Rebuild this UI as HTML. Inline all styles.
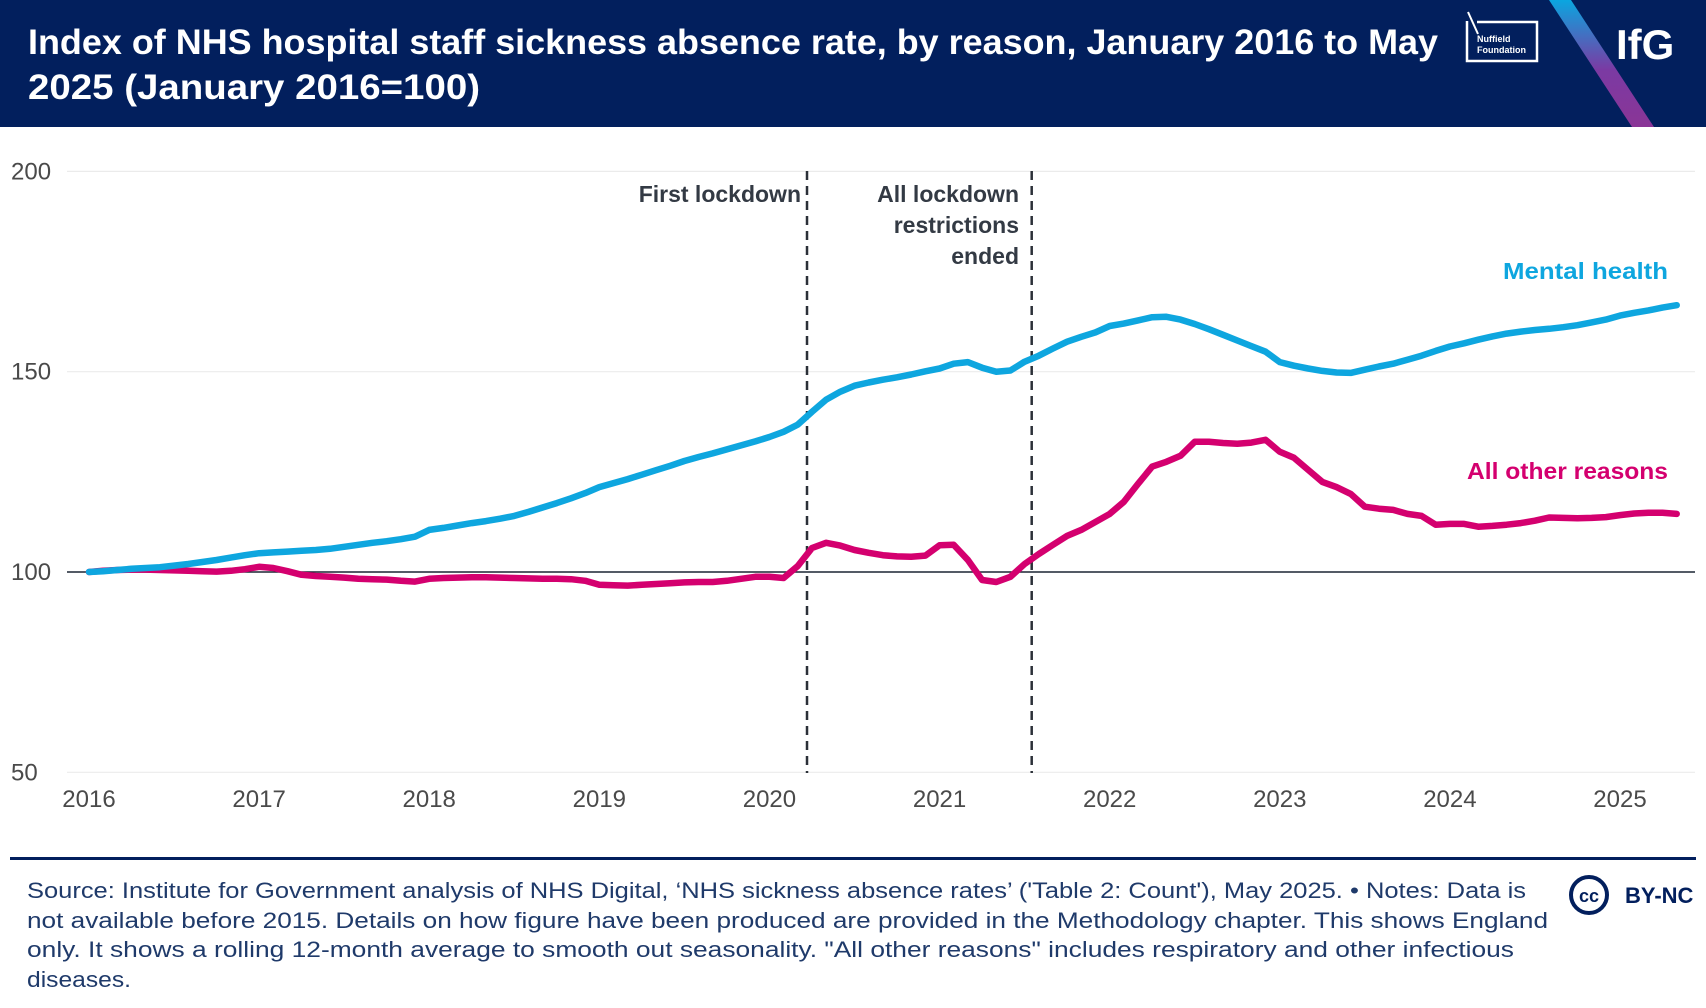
<!DOCTYPE html>
<html><head><meta charset="utf-8"><style>
html,body{margin:0;padding:0;background:#fff;}
svg{display:block;font-family:"Liberation Sans",sans-serif;}
</style></head><body>
<svg id="chart" width="1706" height="1008" viewBox="0 0 1706 1008">
<defs><linearGradient id="stripe" x1="0" y1="0" x2="0" y2="1"><stop offset="0" stop-color="#0aa6e0"/><stop offset="0.55" stop-color="#7b3aa3"/><stop offset="1" stop-color="#8a3596"/></linearGradient></defs>
<rect x="0" y="0" width="1706" height="127" fill="#021f5d"/>
<text fill="#fff" font-weight="bold" font-size="35">
<tspan x="28" y="54" textLength="1410" lengthAdjust="spacingAndGlyphs">Index of NHS hospital staff sickness absence rate, by reason, January 2016 to May</tspan>
<tspan x="28" y="99" textLength="452" lengthAdjust="spacingAndGlyphs">2025 (January 2016=100)</tspan></text>
<g>
<path d="M1467 21 L1467 61 L1537 61 L1537 22 L1477 22" fill="none" stroke="#fff" stroke-width="2.5"/>
<path d="M1468 12 L1478 34" stroke="#fff" stroke-width="2"/>
<text x="1477" y="42" fill="#fff" font-size="9" font-weight="bold">Nuffield</text>
<text x="1477" y="53" fill="#fff" font-size="9" font-weight="bold">Foundation</text></g>
<polygon points="1549,0 1571,0 1654,127 1632,127" fill="url(#stripe)"/>
<text x="1616" y="59" fill="#fff" font-weight="bold" font-size="42">IfG</text>
<g id="plot"></g>
<rect x="10" y="857" width="1686" height="3" fill="#021f5d"/>
<text fill="#1f3a6a" font-size="22">
<tspan x="27" y="898" textLength="1499" lengthAdjust="spacingAndGlyphs">Source: Institute for Government analysis of NHS Digital, ‘NHS sickness absence rates’ ('Table 2: Count'), May 2025. • Notes: Data is</tspan>
<tspan x="27" y="928" textLength="1521" lengthAdjust="spacingAndGlyphs">not available before 2015. Details on how figure have been produced are provided in the Methodology chapter. This shows England</tspan>
<tspan x="27" y="957" textLength="1487" lengthAdjust="spacingAndGlyphs">only. It shows a rolling 12-month average to smooth out seasonality. "All other reasons" includes respiratory and other infectious</tspan>
<tspan x="27" y="987" textLength="104" lengthAdjust="spacingAndGlyphs">diseases.</tspan></text>
<g>
<circle cx="1589" cy="895" r="18" fill="none" stroke="#021f5d" stroke-width="4"/>
<text x="1589" y="902" text-anchor="middle" font-size="18" font-weight="bold" fill="#021f5d">cc</text>
<text x="1625" y="903" font-size="22" font-weight="bold" fill="#021f5d">BY-NC</text></g>
</svg>
<script>
const years = ["2016","2017","2018","2019","2020","2021","2022","2023","2024","2025"];
const yTicks = [50,100,150,200];
const mentalHealth = [100,100.2,100.5,100.8,101,101.2,101.6,102,102.5,103,103.6,104.2,
104.7,104.9,105.1,105.3,105.5,105.8,106.3,106.8,107.3,107.7,108.2,108.8,
110.5,111,111.6,112.2,112.7,113.3,114,115,116.1,117.2,118.4,119.7,
121.2,122.2,123.2,124.3,125.4,126.5,127.7,128.7,129.6,130.6,131.6,132.6,
133.7,135,136.8,140,143,145,146.5,147.3,148,148.6,149.3,150.1,
150.8,152,152.4,151,150,150.3,152.5,154,155.8,157.5,158.7,159.8,
161.4,162,162.8,163.6,163.7,163,161.9,160.6,159.2,157.8,156.4,155,
152.4,151.5,150.8,150.2,149.8,149.7,150.5,151.3,152,153,154,155.2,
156.3,157.1,158,158.8,159.5,160,160.4,160.7,161.1,161.6,162.3,163,
164,164.7,165.3,166,166.6];
const otherReasons = [100,100.3,100.5,100.6,100.6,100.5,100.4,100.3,100.2,100.1,100.3,100.7,
101.3,101,100.2,99.3,99,98.8,98.6,98.3,98.2,98.1,97.8,97.6,
98.3,98.5,98.6,98.7,98.7,98.6,98.5,98.4,98.3,98.3,98.2,97.8,
96.8,96.7,96.6,96.8,97,97.2,97.4,97.5,97.5,97.8,98.3,98.8,
98.8,98.5,101.5,106,107.3,106.6,105.5,104.8,104.2,103.9,103.8,104.1,
106.7,106.8,103,98,97.5,98.8,102,104.5,106.8,109,110.5,112.5,
114.5,117.5,122,126.3,127.5,129,132.5,132.5,132.2,132,132.3,133,
130,128.5,125.5,122.5,121.2,119.5,116.3,115.8,115.5,114.5,114,111.8,
112,112,111.3,111.5,111.8,112.2,112.8,113.6,113.5,113.4,113.5,113.7,
114.2,114.6,114.8,114.8,114.5];
const lockdownOffsets = [50.65,66.5];

const NS="http://www.w3.org/2000/svg";
const plot=document.getElementById('plot');
const X=m=>89+m*(1531/108);
const Y=v=>572-(v-100)*4.006;
function mk(tag,attrs){const e=document.createElementNS(NS,tag);for(const k in attrs)e.setAttribute(k,attrs[k]);plot.appendChild(e);return e;}
yTicks.forEach(t=>{
  const g=mk('line',{x1:67,x2:1695,y1:Y(t),y2:Y(t),stroke:t===100?'#1c2533':'#ebebeb','stroke-width':t===100?1.6:1.2});
  
  
  const l=mk('text',{x:11,y:Y(t)+8,'font-size':24,fill:'#4a4a4a'});l.textContent=t;
  
  
});
years.forEach((yr,i)=>{
  const l=mk('text',{x:X(i*12),y:807,'font-size':24,fill:'#4a4a4a','text-anchor':'middle'});l.textContent=yr;
  
  
});
lockdownOffsets.forEach((m,i)=>{
  const d=mk('line',{x1:X(m),x2:X(m),y1:171,y2:773,stroke:'#2b3038','stroke-width':2.5,'stroke-dasharray':'9,6'});
  
  
});
function path(arr,color,name){
  const p=mk('path',{d:arr.map((v,i)=>(i?'L':'M')+X(i).toFixed(1)+' '+Y(v).toFixed(1)).join(''),fill:'none',stroke:color,'stroke-width':6.5,'stroke-linejoin':'round','stroke-linecap':'round'});
  
  
}
path(otherReasons,'#d4006f','other-reasons-line');
path(mentalHealth,'#0ea6df','mental-health-line');
function label(txt,x,y,color,name,len){
  const a={x:x,y:y,'font-size':23,'font-weight':'bold',fill:color,'text-anchor':'end'};
  if(len){a.textLength=len;a.lengthAdjust='spacingAndGlyphs';}
  const t=mk('text',a);t.textContent=txt;
  
  
}
label('First lockdown',801,202,'#333a44','first-lockdown-label');
label('All lockdown',1019,202,'#333a44','restrictions-ended-label');
label('restrictions',1019,233,'#333a44','restrictions-ended-label');
label('ended',1019,264,'#333a44','restrictions-ended-label');
label('Mental health',1668,279,'#0ea6df','mental-health-label',165);
label('All other reasons',1668,479,'#d4006f','other-reasons-label',201);
</script>
</body></html>
